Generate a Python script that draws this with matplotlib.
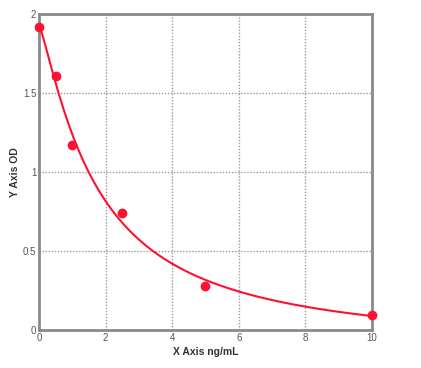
import numpy as np
import matplotlib
matplotlib.use("Agg")
import matplotlib.pyplot as plt

conc = [0, 0.5, 1, 2.5, 5, 10]
od = [1.92, 1.61, 1.17, 0.74, 0.28, 0.095]
xticks = [0, 2, 4, 6, 8, 10]
yticks = [0, 0.5, 1, 1.5, 2]
ytick_labels = ["0", "0.5", "1", "1.5", "2"]

# four-parameter logistic fit: y = d + (a-d)/(1+(x/c)^b), grid over b,c
x = np.array(conc, float)
y = np.array(od, float)
best = None
for b in np.linspace(0.6, 3.0, 121):
    for c in np.linspace(0.5, 8, 151):
        g = 1.0 / (1.0 + (x / c) ** b)
        M = np.vstack([g, 1 - g]).T
        coef, *_ = np.linalg.lstsq(M, y, rcond=None)
        r = np.sum((M @ coef - y) ** 2)
        if best is None or r < best[0]:
            best = (r, b, c, coef)
_, b, c, (a, d) = best
xf = np.linspace(0, 10, 300)
gf = 1.0 / (1.0 + (xf / c) ** b)
yf = a * gf + d * (1 - gf)

plt.rcParams["font.family"] = ["Liberation Sans", "DejaVu Sans"]
fig = plt.figure(figsize=(4.21, 3.68), dpi=100)
ax = fig.add_axes([0.0926, 0.1033, 0.791, 0.8587])
ax.plot(xf, yf, color="#ff1030", lw=1.5, zorder=3)
ax.plot(conc, od, "o", color="#ff1030", ms=6, zorder=4, clip_on=False)
ax.set_xlim(0, 10)
ax.set_ylim(0, 2)
ax.set_xticks(xticks)
ax.set_yticks(yticks)
ax.set_yticklabels(ytick_labels)
ax.grid(True, color="#9a9a9a", linestyle=(0, (1, 1.2)), lw=1)
ax.tick_params(length=0, labelsize=7, colors="#555555", pad=2)
for s in ax.spines.values():
    s.set_color("#8a8a8a")
    s.set_linewidth(2)
ax.set_xlabel("X Axis ng/mL", fontsize=7.5, color="#333333", fontweight="bold", labelpad=3)
ax.set_ylabel("Y Axis OD", fontsize=7.5, color="#333333", fontweight="bold")
ax.yaxis.set_label_coords(-0.057, 0.5)
fig.savefig("out.png", dpi=100)
